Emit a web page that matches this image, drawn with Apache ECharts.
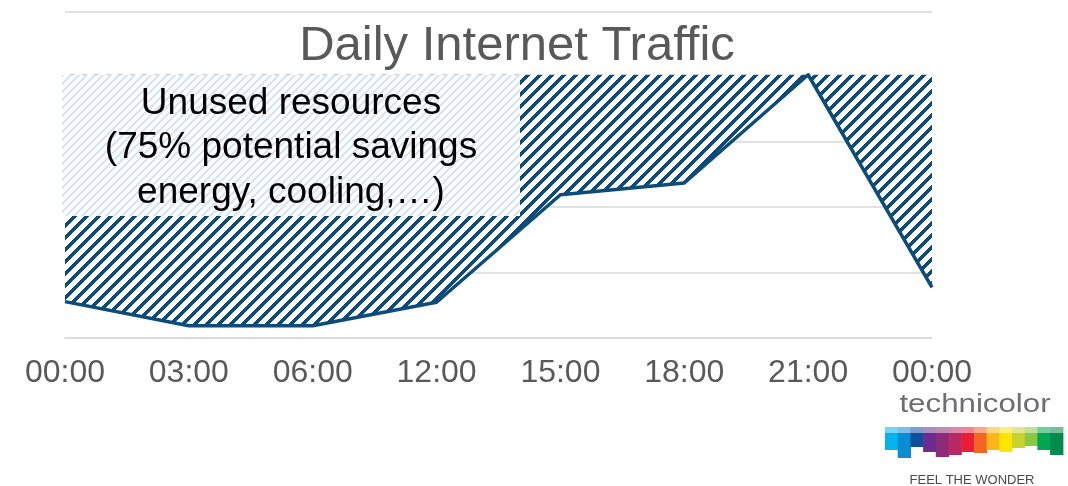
<!DOCTYPE html>
<html>
<head>
<meta charset="utf-8">
<script src="https://cdn.jsdelivr.net/npm/echarts@6/dist/echarts.min.js"></script>
<style>
html,body{margin:0;padding:0;background:#fff;}
#chart{width:1068px;height:486px;}
</style>
</head>
<body>
<div id="chart"></div>
<script>
// ---- data ----
const categories = ['00:00', '03:00', '06:00', '12:00', '15:00', '18:00', '21:00', '00:00'];
const traffic = [0.55, 0.18, 0.18, 0.54, 2.19, 2.37, 4.03, 0.77];
const capacity = 4.03;
const yTicks = [0, 1, 2, 3, 4, 5];
const titleText = 'Daily Internet Traffic';
const noteLines = ['Unused resources', '(75% potential savings', 'energy, cooling,…)'];
const logoColors = ['#00b4ec', '#0a8dd3', '#0c4ea0', '#6a2d8f', '#8e2a7c', '#b72962', '#e91d38', '#f26524', '#fdb717', '#ffe500', '#c8d42b', '#8dc641', '#00a650', '#008a4b'];
const logoDepths = [17, 25, 14, 19, 24, 22, 19, 20, 17, 19, 15, 13, 17, 22];

// ---- patterns ----
function stripes(period, width, color) {
  const c = document.createElement('canvas');
  c.width = period; c.height = period;
  const ctx = c.getContext('2d');
  const img = ctx.createImageData(period, period);
  const r = parseInt(color.slice(1, 3), 16), g = parseInt(color.slice(3, 5), 16), b = parseInt(color.slice(5, 7), 16);
  for (let y = 0; y < period; y++) {
    for (let x = 0; x < period; x++) {
      const i = (y * period + x) * 4;
      const on = ((x + y) % period) < width;
      img.data[i] = on ? r : 255;
      img.data[i + 1] = on ? g : 255;
      img.data[i + 2] = on ? b : 255;
      img.data[i + 3] = 255;
    }
  }
  ctx.putImageData(img, 0, 0);
  return c;
}
const darkPattern = { image: stripes(12, 5, '#0d4c79'), repeat: 'repeat' };
const lightPattern = { image: stripes(8, 3, '#d8e6f4'), repeat: 'repeat' };

const chart = echarts.init(document.getElementById('chart'));

// logo blocks
const logoGraphics = [];
const bx = 885, bw = 12.7, topY = 427, bodyY = 433;
function tint(hex, t) {
  const r = parseInt(hex.slice(1, 3), 16), g = parseInt(hex.slice(3, 5), 16), b = parseInt(hex.slice(5, 7), 16);
  const f = v => Math.round(v + (255 - v) * t);
  return 'rgb(' + f(r) + ',' + f(g) + ',' + f(b) + ')';
}
logoColors.forEach((col, i) => {
  logoGraphics.push({
    type: 'rect', z: 100,
    shape: { x: bx + i * bw, y: topY, width: bw + 0.6, height: bodyY - topY },
    style: { fill: tint(col, 0.45) }
  });
  logoGraphics.push({
    type: 'rect', z: 100,
    shape: { x: bx + i * bw, y: bodyY, width: bw + 0.6, height: logoDepths[i] },
    style: { fill: col }
  });
});

chart.setOption({
  animation: false,
  backgroundColor: '#ffffff',
  grid: { left: 65, right: 136, top: 11.5, bottom: 148.5 },
  xAxis: {
    type: 'category',
    data: categories,
    boundaryGap: false,
    axisLine: { show: true, lineStyle: { color: '#d9d9d9', width: 1.5 } },
    axisTick: { show: false },
    axisLabel: { color: '#595959', fontSize: 32, fontFamily: 'Liberation Sans, Arial, sans-serif', margin: 20, interval: 0 }
  },
  yAxis: {
    type: 'value',
    min: yTicks[0],
    max: yTicks[yTicks.length - 1],
    interval: 1,
    axisLine: { show: false },
    axisTick: { show: false },
    axisLabel: { show: false },
    splitLine: { lineStyle: { color: '#d9d9d9', width: 1.5 } }
  },
  series: [{
    type: 'line',
    data: traffic,
    symbol: 'none',
    lineStyle: { color: '#0d4c79', width: 3.5, join: 'round' },
    areaStyle: { color: darkPattern, opacity: 1, origin: capacity },
    z: 3
  }],
  graphic: [
    {
      type: 'rect', z: 50,
      shape: { x: 62, y: 75, width: 458, height: 141 },
      style: { fill: lightPattern }
    },
    {
      type: 'text', z: 60,
      x: 291, y: 148,
      style: {
        text: noteLines.join('\n'),
        x: 0, y: 0,
        fill: '#000000',
        font: '37px "Liberation Sans", Arial, sans-serif',
        lineHeight: 44.5,
        textAlign: 'center',
        textVerticalAlign: 'middle'
      }
    },
    {
      type: 'text', z: 60,
      x: 517, y: 46,
      style: {
        text: titleText, x: 0, y: 0,
        fill: '#595959',
        font: '49px "Liberation Sans", Arial, sans-serif',
        textAlign: 'center', textVerticalAlign: 'middle'
      }
    },
    {
      type: 'text', z: 100,
      x: 975, y: 405, scaleX: 1.25,
      style: {
        text: 'technicolor', x: 0, y: 0,
        fill: '#6d6e71',
        font: '25px "Liberation Sans", Arial, sans-serif',
        textAlign: 'center', textVerticalAlign: 'middle'
      }
    },
    {
      type: 'text', z: 100,
      x: 972, y: 480,
      style: {
        text: 'FEEL THE WONDER', x: 0, y: 0,
        fill: '#4a4a4a',
        font: '13px "Liberation Sans", Arial, sans-serif',
        textAlign: 'center', textVerticalAlign: 'middle'
      }
    }
  ].concat(logoGraphics)
});
</script>
</body>
</html>
